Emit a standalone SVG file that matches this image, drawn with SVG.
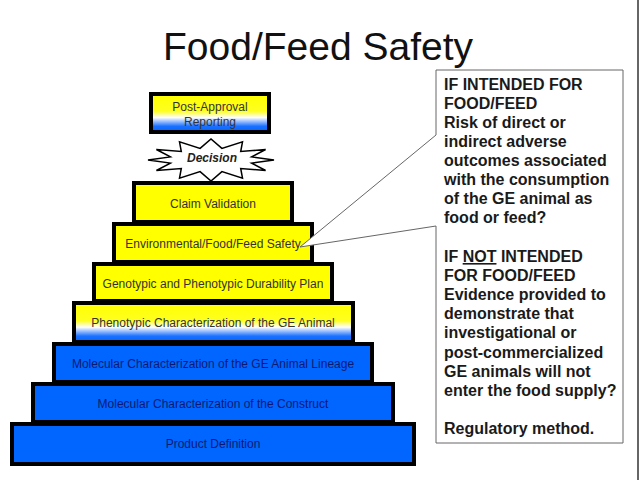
<svg xmlns="http://www.w3.org/2000/svg" width="640" height="480" viewBox="0 0 640 480">
<defs>
<linearGradient id="ywb" x1="0" y1="0" x2="0" y2="1">
<stop offset="0" stop-color="#ffff00"/>
<stop offset="0.45" stop-color="#ffff20"/>
<stop offset="0.62" stop-color="#ffffff"/>
<stop offset="0.85" stop-color="#1a70ff"/>
<stop offset="1" stop-color="#0066ff"/>
</linearGradient>
<style>
.box{stroke:#000;stroke-width:4}
.y{fill:#ffff00}
.b{fill:#0066ff}
.g{fill:url(#ywb)}
.lt{font-family:"Liberation Sans",Arial,sans-serif;font-size:12px;text-anchor:middle}
.ty{fill:#333}
.tb{fill:#0c1a72}
.ct{font-family:"Liberation Sans",Arial,sans-serif;font-size:16px;font-weight:bold;fill:#1a1a1a}
</style>
</defs>
<rect width="640" height="480" fill="#fff"/>
<line x1="638" y1="0" x2="638" y2="480" stroke="#333" stroke-width="1.5"/>
<text x="318" y="60" font-family="'Liberation Sans',Arial,sans-serif" font-size="39" text-anchor="middle" fill="#111">Food/Feed Safety</text>

<g id="post-approval">
<rect class="box g" x="151" y="94" width="118" height="38"/>
<text class="lt ty" x="210" y="111">Post-Approval</text>
<text class="lt ty" x="210" y="126">Reporting</text>
</g>
<g id="decision">
<polygon points="274,160 251.6,156.9 265.6,149.5 240.7,151.5 242.5,141.8 221.9,148.4 211,139 200.1,148.4 179.5,141.8 181.3,151.5 156.4,149.5 170.4,156.9 148,160 170.4,163.1 156.4,170.5 181.3,168.5 179.5,178.2 200.1,171.6 211,181 221.9,171.6 242.5,178.2 240.7,168.5 265.6,170.5 251.6,163.1" fill="#fff" stroke="#000" stroke-width="1.5"/>
<text x="212" y="162" font-family="'Liberation Sans',Arial,sans-serif" font-size="12" font-weight="bold" font-style="italic" text-anchor="middle" fill="#222">Decision</text>
</g>
<g id="claim">
<rect class="box y" x="134" y="183" width="158" height="39"/>
<text class="lt ty" x="213" y="208">Claim Validation</text>
</g>
<g id="env">
<rect class="box y" x="114" y="224" width="198" height="38"/>
<text class="lt ty" x="213" y="248">Environmental/Food/Feed Safety</text>
</g>
<g id="geno">
<rect class="box y" x="94" y="264" width="238" height="37"/>
<text class="lt ty" x="213" y="288">Genotypic and Phenotypic Durability Plan</text>
</g>
<g id="pheno">
<rect class="box g" x="74" y="303" width="279" height="39"/>
<text class="lt ty" x="213" y="327">Phenotypic Characterization of the GE Animal</text>
</g>
<g id="lineage">
<rect class="box b" x="54" y="344" width="318" height="38"/>
<text class="lt tb" x="213" y="368">Molecular Characterization of the GE Animal Lineage</text>
</g>
<g id="construct">
<rect class="box b" x="33" y="384" width="360" height="38"/>
<text class="lt tb" x="213" y="408">Molecular Characterization of the Construct</text>
</g>
<g id="product">
<rect class="box b" x="12" y="424" width="402" height="40"/>
<text class="lt tb" x="213" y="448">Product Definition</text>
</g>

<g id="connectors"/>

<g id="callout">
<polygon points="436,70 623,70 623,443 436,443 436,226 300,247 436,135" fill="#fff" stroke="#666" stroke-width="1"/>
<text class="ct" x="444" y="90">IF INTENDED FOR</text>
<text class="ct" x="444" y="109">FOOD/FEED</text>
<text class="ct" x="444" y="128">Risk of direct or</text>
<text class="ct" x="444" y="147">indirect adverse</text>
<text class="ct" x="444" y="166">outcomes associated</text>
<text class="ct" x="444" y="185">with the consumption</text>
<text class="ct" x="444" y="204">of the GE animal as</text>
<text class="ct" x="444" y="223">food or feed?</text>
<text class="ct" x="444" y="262">IF <tspan text-decoration="underline">NOT</tspan> INTENDED</text>
<text class="ct" x="444" y="281">FOR FOOD/FEED</text>
<text class="ct" x="444" y="300">Evidence provided to</text>
<text class="ct" x="444" y="319">demonstrate that</text>
<text class="ct" x="444" y="338">investigational or</text>
<text class="ct" x="444" y="358">post-commercialized</text>
<text class="ct" x="444" y="377">GE animals will not</text>
<text class="ct" x="444" y="396">enter the food supply?</text>
<text class="ct" x="444" y="434">Regulatory method.</text>
</g>
</svg>
